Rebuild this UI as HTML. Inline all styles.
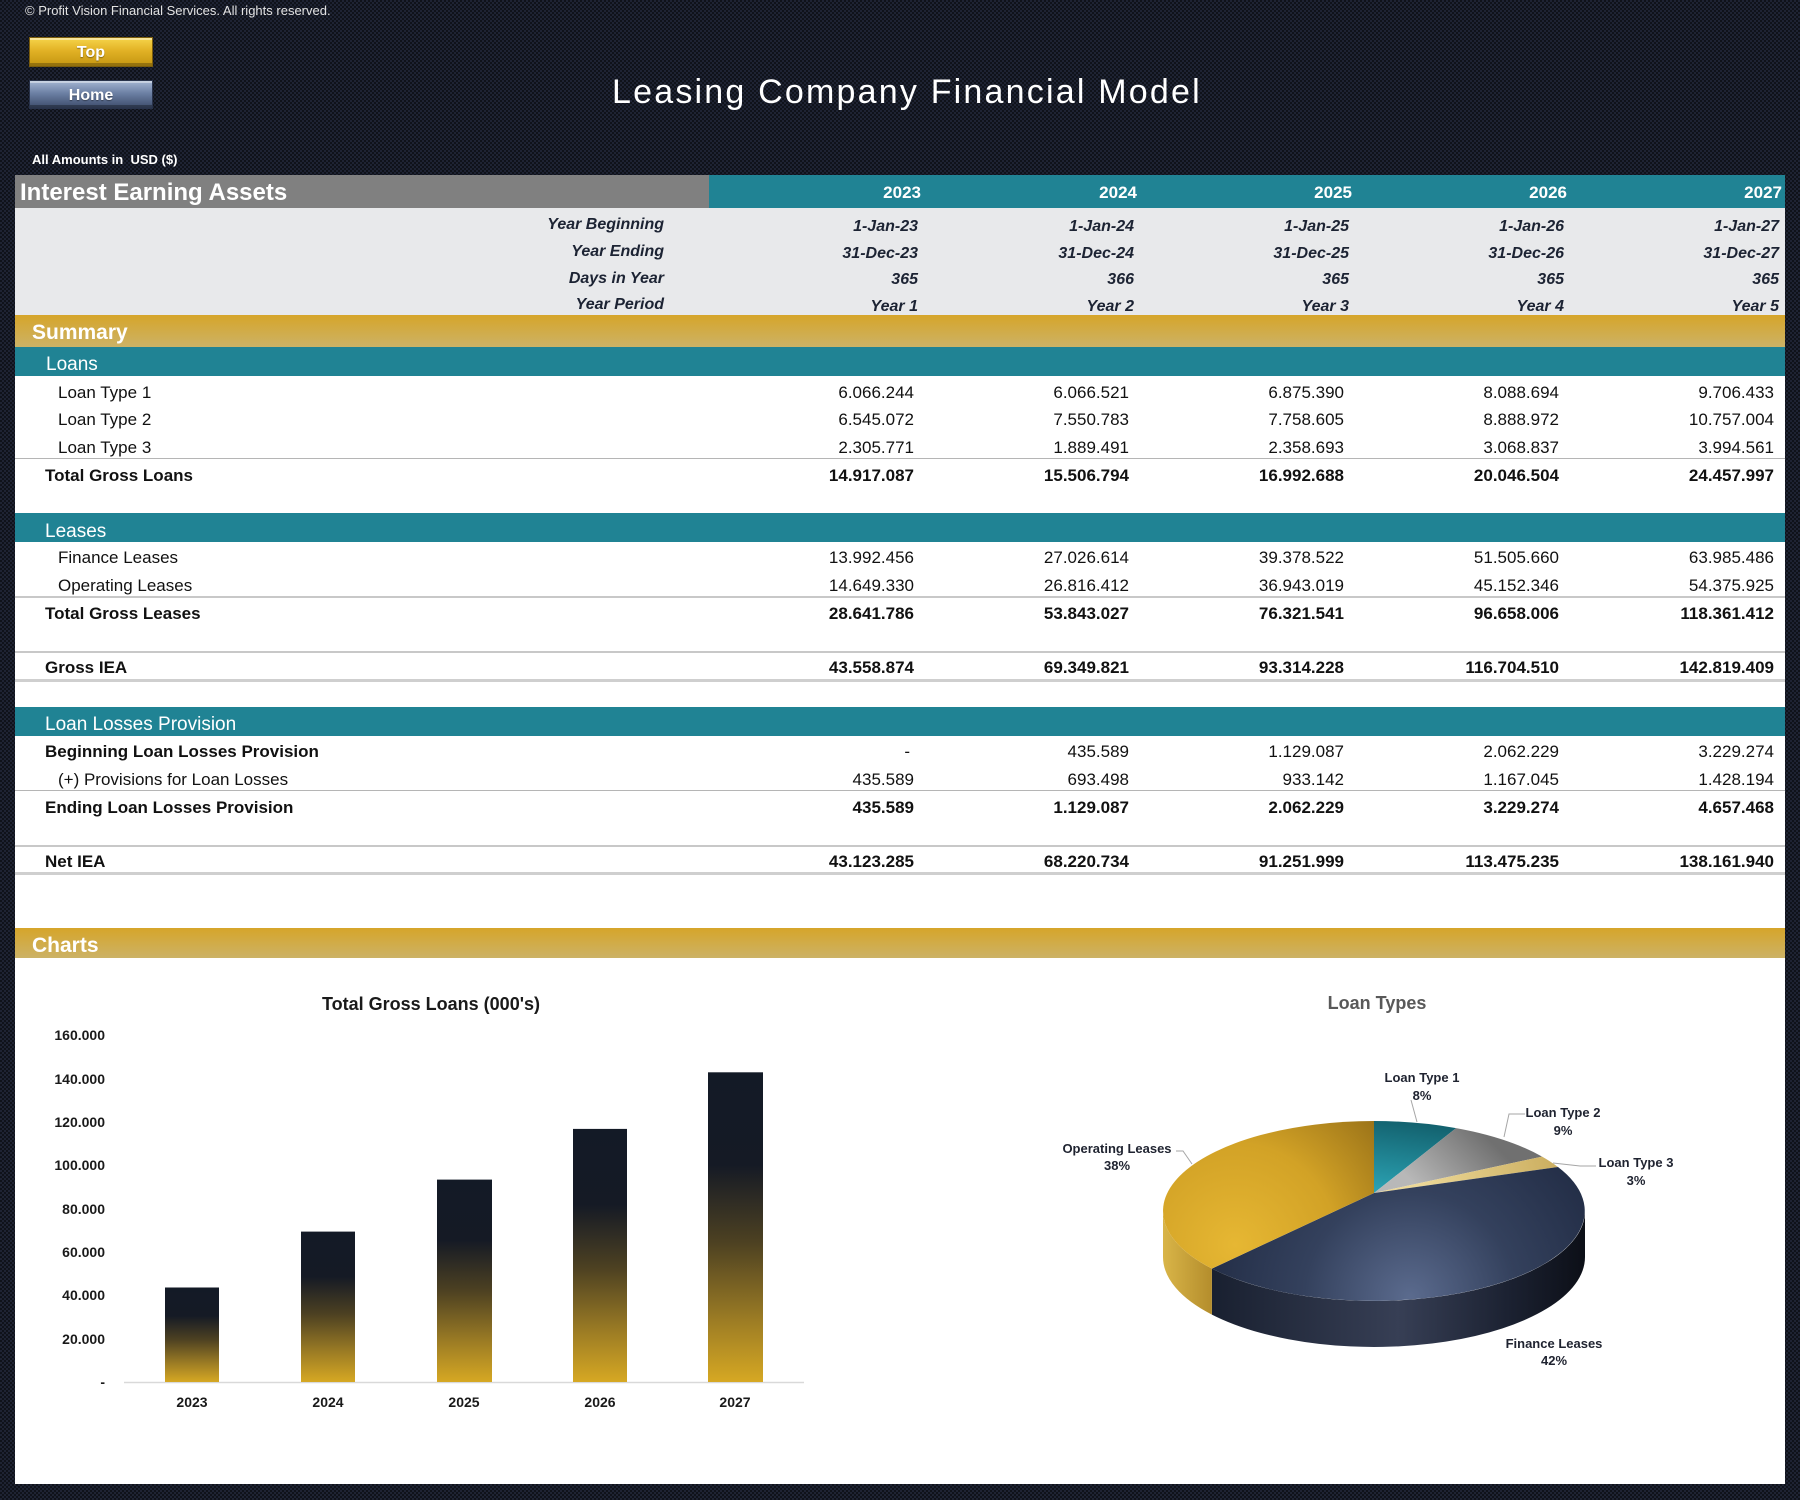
<!DOCTYPE html>
<html>
<head>
<meta charset="utf-8">
<style>
html,body{margin:0;padding:0;}
body{width:1800px;height:1500px;position:relative;overflow:hidden;
 background-color:#161a25;
 background-image:repeating-conic-gradient(#1e2333 0% 25%, #0f121a 0% 50%);
 background-size:4px 4px;
 font-family:"Liberation Sans",Arial,sans-serif;}
.a{position:absolute;}
.t{position:absolute;white-space:nowrap;}
.panel{position:absolute;left:15px;top:175px;width:1770px;height:1309px;background:#fff;}
.teal{position:absolute;left:15px;width:1770px;background:#208394;}
.gold{position:absolute;left:15px;width:1770px;background:linear-gradient(#d6a52a,#ccb266);}
.ln{position:absolute;left:15px;width:1770px;}
.n{position:absolute;width:200px;text-align:right;height:26px;line-height:26px;font-size:17px;color:#111;white-space:nowrap;}
.b{font-weight:bold;}
.lab{position:absolute;height:26px;line-height:26px;font-size:17px;color:#111;white-space:nowrap;}
.hd{position:absolute;width:200px;text-align:right;height:30px;line-height:30px;font-size:17px;font-weight:bold;color:#fff;}
.dt{position:absolute;width:200px;text-align:right;height:26px;line-height:26px;font-size:16px;font-weight:bold;font-style:italic;color:#1c2333;}
.gl{position:absolute;left:364px;width:300px;text-align:right;height:26px;line-height:26px;font-size:16px;font-weight:bold;font-style:italic;color:#1c2333;}
.sec{position:absolute;height:30px;line-height:30px;font-size:19px;color:#fff;white-space:nowrap;}
.btn{position:absolute;left:29px;width:124px;height:30px;line-height:30px;text-align:center;font-weight:bold;font-size:16px;color:#fff;box-sizing:border-box;text-shadow:0 1px 1px rgba(0,0,0,.4);}
</style>
</head>
<body>

<div class="t" style="left:25px;top:2px;height:18px;line-height:18px;font-size:13px;color:#e2e2e2;">© Profit Vision Financial Services. All rights reserved.</div>

<div class="btn" style="top:37px;background:linear-gradient(#f6d44a 0%,#e2b225 45%,#c49510 100%);border:1px solid #7a5c0c;box-shadow:inset 0 2px 0 rgba(255,255,255,.45),inset 0 -3px 0 rgba(0,0,0,.25);">Top</div>
<div class="btn" style="top:80px;height:29px;line-height:29px;background:linear-gradient(#a4b5d2 0%,#6c80a4 45%,#3c4b6a 100%);border:1px solid #28324a;box-shadow:inset 0 2px 0 rgba(255,255,255,.4),inset 0 -3px 0 rgba(0,0,0,.3);">Home</div>

<div class="t" style="left:612px;top:72px;height:40px;line-height:40px;font-size:34px;letter-spacing:2.2px;color:#fff;">Leasing Company Financial Model</div>

<div class="t" style="left:32px;top:151px;height:18px;line-height:18px;font-size:13px;font-weight:bold;color:#fff;">All Amounts in&nbsp; USD ($)</div>

<!-- panel -->
<div class="panel"></div>
<div class="a" style="left:15px;top:175px;width:694px;height:33px;background:#808080;"></div>
<div class="a" style="left:709px;top:175px;width:1076px;height:33px;background:#208394;"></div>
<div class="a" style="left:15px;top:208px;width:1770px;height:107px;background:#e8e9eb;"></div>

<div class="t" style="left:20px;top:177px;height:32px;line-height:32px;font-size:24px;font-weight:bold;color:#fff;">Interest Earning Assets</div>
<div class="hd" style="left:721px;top:178px;">2023</div>
<div class="hd" style="left:937px;top:178px;">2024</div>
<div class="hd" style="left:1152px;top:178px;">2025</div>
<div class="hd" style="left:1367px;top:178px;">2026</div>
<div class="hd" style="left:1582px;top:178px;">2027</div>

<div class="gl" style="top:212px;">Year Beginning</div>
<div class="gl" style="top:239px;">Year Ending</div>
<div class="gl" style="top:266px;">Days in Year</div>
<div class="gl" style="top:292px;">Year Period</div>

<div class="dt" style="left:718px;top:214px;">1-Jan-23</div>
<div class="dt" style="left:934px;top:214px;">1-Jan-24</div>
<div class="dt" style="left:1149px;top:214px;">1-Jan-25</div>
<div class="dt" style="left:1364px;top:214px;">1-Jan-26</div>
<div class="dt" style="left:1579px;top:214px;">1-Jan-27</div>

<div class="dt" style="left:718px;top:241px;">31-Dec-23</div>
<div class="dt" style="left:934px;top:241px;">31-Dec-24</div>
<div class="dt" style="left:1149px;top:241px;">31-Dec-25</div>
<div class="dt" style="left:1364px;top:241px;">31-Dec-26</div>
<div class="dt" style="left:1579px;top:241px;">31-Dec-27</div>

<div class="dt" style="left:718px;top:267px;">365</div>
<div class="dt" style="left:934px;top:267px;">366</div>
<div class="dt" style="left:1149px;top:267px;">365</div>
<div class="dt" style="left:1364px;top:267px;">365</div>
<div class="dt" style="left:1579px;top:267px;">365</div>

<div class="dt" style="left:718px;top:294px;">Year 1</div>
<div class="dt" style="left:934px;top:294px;">Year 2</div>
<div class="dt" style="left:1149px;top:294px;">Year 3</div>
<div class="dt" style="left:1364px;top:294px;">Year 4</div>
<div class="dt" style="left:1579px;top:294px;">Year 5</div>

<!-- Summary -->
<div class="gold" style="top:315px;height:32px;"></div>
<div class="t" style="left:32px;top:317px;height:32px;line-height:32px;font-size:21px;font-weight:bold;color:#fff;">Summary</div>

<!-- Loans -->
<div class="teal" style="top:347px;height:29px;"></div>
<div class="sec" style="left:46px;top:350px;">Loans</div>

<div class="lab" style="left:58px;top:380px;">Loan Type 1</div>
<div class="n" style="left:714px;top:380px;">6.066.244</div>
<div class="n" style="left:929px;top:380px;">6.066.521</div>
<div class="n" style="left:1144px;top:380px;">6.875.390</div>
<div class="n" style="left:1359px;top:380px;">8.088.694</div>
<div class="n" style="left:1574px;top:380px;">9.706.433</div>

<div class="lab" style="left:58px;top:407px;">Loan Type 2</div>
<div class="n" style="left:714px;top:407px;">6.545.072</div>
<div class="n" style="left:929px;top:407px;">7.550.783</div>
<div class="n" style="left:1144px;top:407px;">7.758.605</div>
<div class="n" style="left:1359px;top:407px;">8.888.972</div>
<div class="n" style="left:1574px;top:407px;">10.757.004</div>

<div class="lab" style="left:58px;top:435px;">Loan Type 3</div>
<div class="n" style="left:714px;top:435px;">2.305.771</div>
<div class="n" style="left:929px;top:435px;">1.889.491</div>
<div class="n" style="left:1144px;top:435px;">2.358.693</div>
<div class="n" style="left:1359px;top:435px;">3.068.837</div>
<div class="n" style="left:1574px;top:435px;">3.994.561</div>

<div class="ln" style="top:458px;height:1px;background:#b5b5b5;"></div>

<div class="lab b" style="left:45px;top:463px;">Total Gross Loans</div>
<div class="n b" style="left:714px;top:463px;">14.917.087</div>
<div class="n b" style="left:929px;top:463px;">15.506.794</div>
<div class="n b" style="left:1144px;top:463px;">16.992.688</div>
<div class="n b" style="left:1359px;top:463px;">20.046.504</div>
<div class="n b" style="left:1574px;top:463px;">24.457.997</div>

<!-- Leases -->
<div class="teal" style="top:513px;height:29px;"></div>
<div class="sec" style="left:45px;top:517px;">Leases</div>

<div class="lab" style="left:58px;top:545px;">Finance Leases</div>
<div class="n" style="left:714px;top:545px;">13.992.456</div>
<div class="n" style="left:929px;top:545px;">27.026.614</div>
<div class="n" style="left:1144px;top:545px;">39.378.522</div>
<div class="n" style="left:1359px;top:545px;">51.505.660</div>
<div class="n" style="left:1574px;top:545px;">63.985.486</div>

<div class="lab" style="left:58px;top:573px;">Operating Leases</div>
<div class="n" style="left:714px;top:573px;">14.649.330</div>
<div class="n" style="left:929px;top:573px;">26.816.412</div>
<div class="n" style="left:1144px;top:573px;">36.943.019</div>
<div class="n" style="left:1359px;top:573px;">45.152.346</div>
<div class="n" style="left:1574px;top:573px;">54.375.925</div>

<div class="ln" style="top:596px;height:2px;background:#c8c8c8;"></div>

<div class="lab b" style="left:45px;top:601px;">Total Gross Leases</div>
<div class="n b" style="left:714px;top:601px;">28.641.786</div>
<div class="n b" style="left:929px;top:601px;">53.843.027</div>
<div class="n b" style="left:1144px;top:601px;">76.321.541</div>
<div class="n b" style="left:1359px;top:601px;">96.658.006</div>
<div class="n b" style="left:1574px;top:601px;">118.361.412</div>

<div class="ln" style="top:651px;height:2px;background:#c8c8c8;"></div>

<div class="lab b" style="left:45px;top:655px;">Gross IEA</div>
<div class="n b" style="left:714px;top:655px;">43.558.874</div>
<div class="n b" style="left:929px;top:655px;">69.349.821</div>
<div class="n b" style="left:1144px;top:655px;">93.314.228</div>
<div class="n b" style="left:1359px;top:655px;">116.704.510</div>
<div class="n b" style="left:1574px;top:655px;">142.819.409</div>

<div class="ln" style="top:679px;height:3px;background:#cfcfcf;"></div>

<!-- LLP -->
<div class="teal" style="top:707px;height:29px;"></div>
<div class="sec" style="left:45px;top:710px;">Loan Losses Provision</div>

<div class="lab b" style="left:45px;top:739px;">Beginning Loan Losses Provision</div>
<div class="n" style="left:710px;top:739px;">-</div>
<div class="n" style="left:929px;top:739px;">435.589</div>
<div class="n" style="left:1144px;top:739px;">1.129.087</div>
<div class="n" style="left:1359px;top:739px;">2.062.229</div>
<div class="n" style="left:1574px;top:739px;">3.229.274</div>

<div class="lab" style="left:58px;top:767px;">(+) Provisions for Loan Losses</div>
<div class="n" style="left:714px;top:767px;">435.589</div>
<div class="n" style="left:929px;top:767px;">693.498</div>
<div class="n" style="left:1144px;top:767px;">933.142</div>
<div class="n" style="left:1359px;top:767px;">1.167.045</div>
<div class="n" style="left:1574px;top:767px;">1.428.194</div>

<div class="ln" style="top:790px;height:1px;background:#b5b5b5;"></div>

<div class="lab b" style="left:45px;top:795px;">Ending Loan Losses Provision</div>
<div class="n b" style="left:714px;top:795px;">435.589</div>
<div class="n b" style="left:929px;top:795px;">1.129.087</div>
<div class="n b" style="left:1144px;top:795px;">2.062.229</div>
<div class="n b" style="left:1359px;top:795px;">3.229.274</div>
<div class="n b" style="left:1574px;top:795px;">4.657.468</div>

<div class="ln" style="top:845px;height:2px;background:#c8c8c8;"></div>

<div class="lab b" style="left:45px;top:849px;">Net IEA</div>
<div class="n b" style="left:714px;top:849px;">43.123.285</div>
<div class="n b" style="left:929px;top:849px;">68.220.734</div>
<div class="n b" style="left:1144px;top:849px;">91.251.999</div>
<div class="n b" style="left:1359px;top:849px;">113.475.235</div>
<div class="n b" style="left:1574px;top:849px;">138.161.940</div>

<div class="ln" style="top:872px;height:3px;background:#cfcfcf;"></div>

<!-- Charts -->
<div class="gold" style="top:928px;height:30px;"></div>
<div class="t" style="left:32px;top:930px;height:32px;line-height:32px;font-size:21px;font-weight:bold;color:#fff;">Charts</div>

<svg class="a" style="left:0;top:0;" width="1800" height="1500" viewBox="0 0 1800 1500" xmlns="http://www.w3.org/2000/svg">
 <defs>
  <linearGradient id="bar" x1="0" y1="0" x2="0" y2="1">
   <stop offset="0" stop-color="#131a26"/>
   <stop offset="0.3" stop-color="#151a25"/>
   <stop offset="0.55" stop-color="#4d4122"/>
   <stop offset="0.8" stop-color="#9c7c24"/>
   <stop offset="1" stop-color="#d6a823"/>
  </linearGradient>
  <radialGradient id="opTop" gradientUnits="userSpaceOnUse" cx="1235" cy="1245" r="185">
   <stop offset="0" stop-color="#e6b733"/>
   <stop offset="0.55" stop-color="#d2a226"/>
   <stop offset="1" stop-color="#9c7419"/>
  </radialGradient>
  <linearGradient id="opSide" gradientUnits="userSpaceOnUse" x1="1163" y1="0" x2="1212" y2="0">
   <stop offset="0" stop-color="#d9b548"/>
   <stop offset="1" stop-color="#b48d2c"/>
  </linearGradient>
  <radialGradient id="finTop" gradientUnits="userSpaceOnUse" cx="1410" cy="1298" r="235">
   <stop offset="0" stop-color="#5b6b8e"/>
   <stop offset="0.45" stop-color="#34415d"/>
   <stop offset="1" stop-color="#1e2840"/>
  </radialGradient>
  <linearGradient id="finSide" gradientUnits="userSpaceOnUse" x1="1212" y1="0" x2="1585" y2="0">
   <stop offset="0" stop-color="#192030"/>
   <stop offset="0.5" stop-color="#373f55"/>
   <stop offset="0.8" stop-color="#1b2131"/>
   <stop offset="1" stop-color="#0c0f17"/>
  </linearGradient>
  <linearGradient id="lt1" gradientUnits="userSpaceOnUse" x1="1400" y1="1121" x2="1390" y2="1193">
   <stop offset="0" stop-color="#13626f"/>
   <stop offset="1" stop-color="#2ba2b3"/>
  </linearGradient>
  <linearGradient id="lt2" gradientUnits="userSpaceOnUse" x1="1480" y1="1130" x2="1420" y2="1190">
   <stop offset="0" stop-color="#707070"/>
   <stop offset="1" stop-color="#b8b8b8"/>
  </linearGradient>
  <linearGradient id="lt3" gradientUnits="userSpaceOnUse" x1="1550" y1="1160" x2="1420" y2="1190">
   <stop offset="0" stop-color="#cdb062"/>
   <stop offset="1" stop-color="#ecd898"/>
  </linearGradient>
 </defs>

 <!-- Bar chart -->
 <text x="431" y="1010" text-anchor="middle" font-family="Liberation Sans, Arial, sans-serif" font-size="18" font-weight="bold" fill="#1a1a1a">Total Gross Loans (000's)</text>
 <g font-family="Liberation Sans, Arial, sans-serif" font-size="14" font-weight="bold" fill="#1a1a1a" text-anchor="end">
  <text x="105" y="1040">160.000</text>
  <text x="105" y="1084">140.000</text>
  <text x="105" y="1127">120.000</text>
  <text x="105" y="1170">100.000</text>
  <text x="105" y="1214">80.000</text>
  <text x="105" y="1257">60.000</text>
  <text x="105" y="1300">40.000</text>
  <text x="105" y="1344">20.000</text>
  <text x="105" y="1387">-</text>
 </g>
 <line x1="124" y1="1382.5" x2="804" y2="1382.5" stroke="#d9d9d9" stroke-width="1.5"/>
 <rect x="165" y="1287.5" width="54" height="94.5" fill="url(#bar)"/>
 <rect x="301" y="1231.6" width="54" height="150.4" fill="url(#bar)"/>
 <rect x="437" y="1179.6" width="55" height="202.4" fill="url(#bar)"/>
 <rect x="573" y="1128.9" width="54" height="253.1" fill="url(#bar)"/>
 <rect x="708" y="1072.3" width="55" height="309.7" fill="url(#bar)"/>
 <g font-family="Liberation Sans, Arial, sans-serif" font-size="14" font-weight="bold" fill="#1a1a1a" text-anchor="middle">
  <text x="192" y="1407">2023</text>
  <text x="328" y="1407">2024</text>
  <text x="464" y="1407">2025</text>
  <text x="600" y="1407">2026</text>
  <text x="735" y="1407">2027</text>
 </g>

 <!-- Pie chart -->
 <text x="1377" y="1009" text-anchor="middle" font-family="Liberation Sans, Arial, sans-serif" font-size="18" font-weight="bold" fill="#595959">Loan Types</text>

 <!-- sides -->
 <path d="M1585 1211 A211 90 0 0 1 1211.9 1268.6 L1211.9 1314.6 A211 90 0 0 0 1585 1257 Z" fill="url(#finSide)"/>
 <path d="M1211.9 1268.6 A211 90 0 0 1 1163 1211 L1163 1257 A211 90 0 0 0 1211.9 1314.6 Z" fill="url(#opSide)"/>
 <!-- tops -->
 <path d="M1374 1193 L1374 1121 A211 90 0 0 1 1456.1 1128.1 Z" fill="url(#lt1)"/>
 <path d="M1374 1193 L1456.1 1128.1 A211 90 0 0 1 1542.1 1156.6 Z" fill="url(#lt2)"/>
 <path d="M1374 1193 L1542.1 1156.6 A211 90 0 0 1 1558 1167 Z" fill="url(#lt3)"/>
 <path d="M1374 1193 L1558 1167 A211 90 0 0 1 1211.9 1268.6 Z" fill="url(#finTop)"/>
 <path d="M1374 1193 L1211.9 1268.6 A211 90 0 0 1 1374 1121 Z" fill="url(#opTop)"/>

 <!-- leader lines -->
 <g stroke="#a6a6a6" stroke-width="1" fill="none">
  <polyline points="1411,1100 1417,1122"/>
  <polyline points="1525,1114 1509,1114 1504,1137"/>
  <polyline points="1596,1166 1580,1166 1553,1163"/>
  <polyline points="1176,1151 1183,1151 1192,1164"/>
 </g>
 <g font-family="Liberation Sans, Arial, sans-serif" font-size="13" font-weight="bold" fill="#1f2330" text-anchor="middle">
  <text x="1422" y="1082">Loan Type 1</text>
  <text x="1422" y="1100">8%</text>
  <text x="1563" y="1117">Loan Type 2</text>
  <text x="1563" y="1135">9%</text>
  <text x="1636" y="1167">Loan Type 3</text>
  <text x="1636" y="1185">3%</text>
  <text x="1117" y="1153">Operating Leases</text>
  <text x="1117" y="1170">38%</text>
  <text x="1554" y="1348">Finance Leases</text>
  <text x="1554" y="1365">42%</text>
 </g>
</svg>

</body>
</html>
